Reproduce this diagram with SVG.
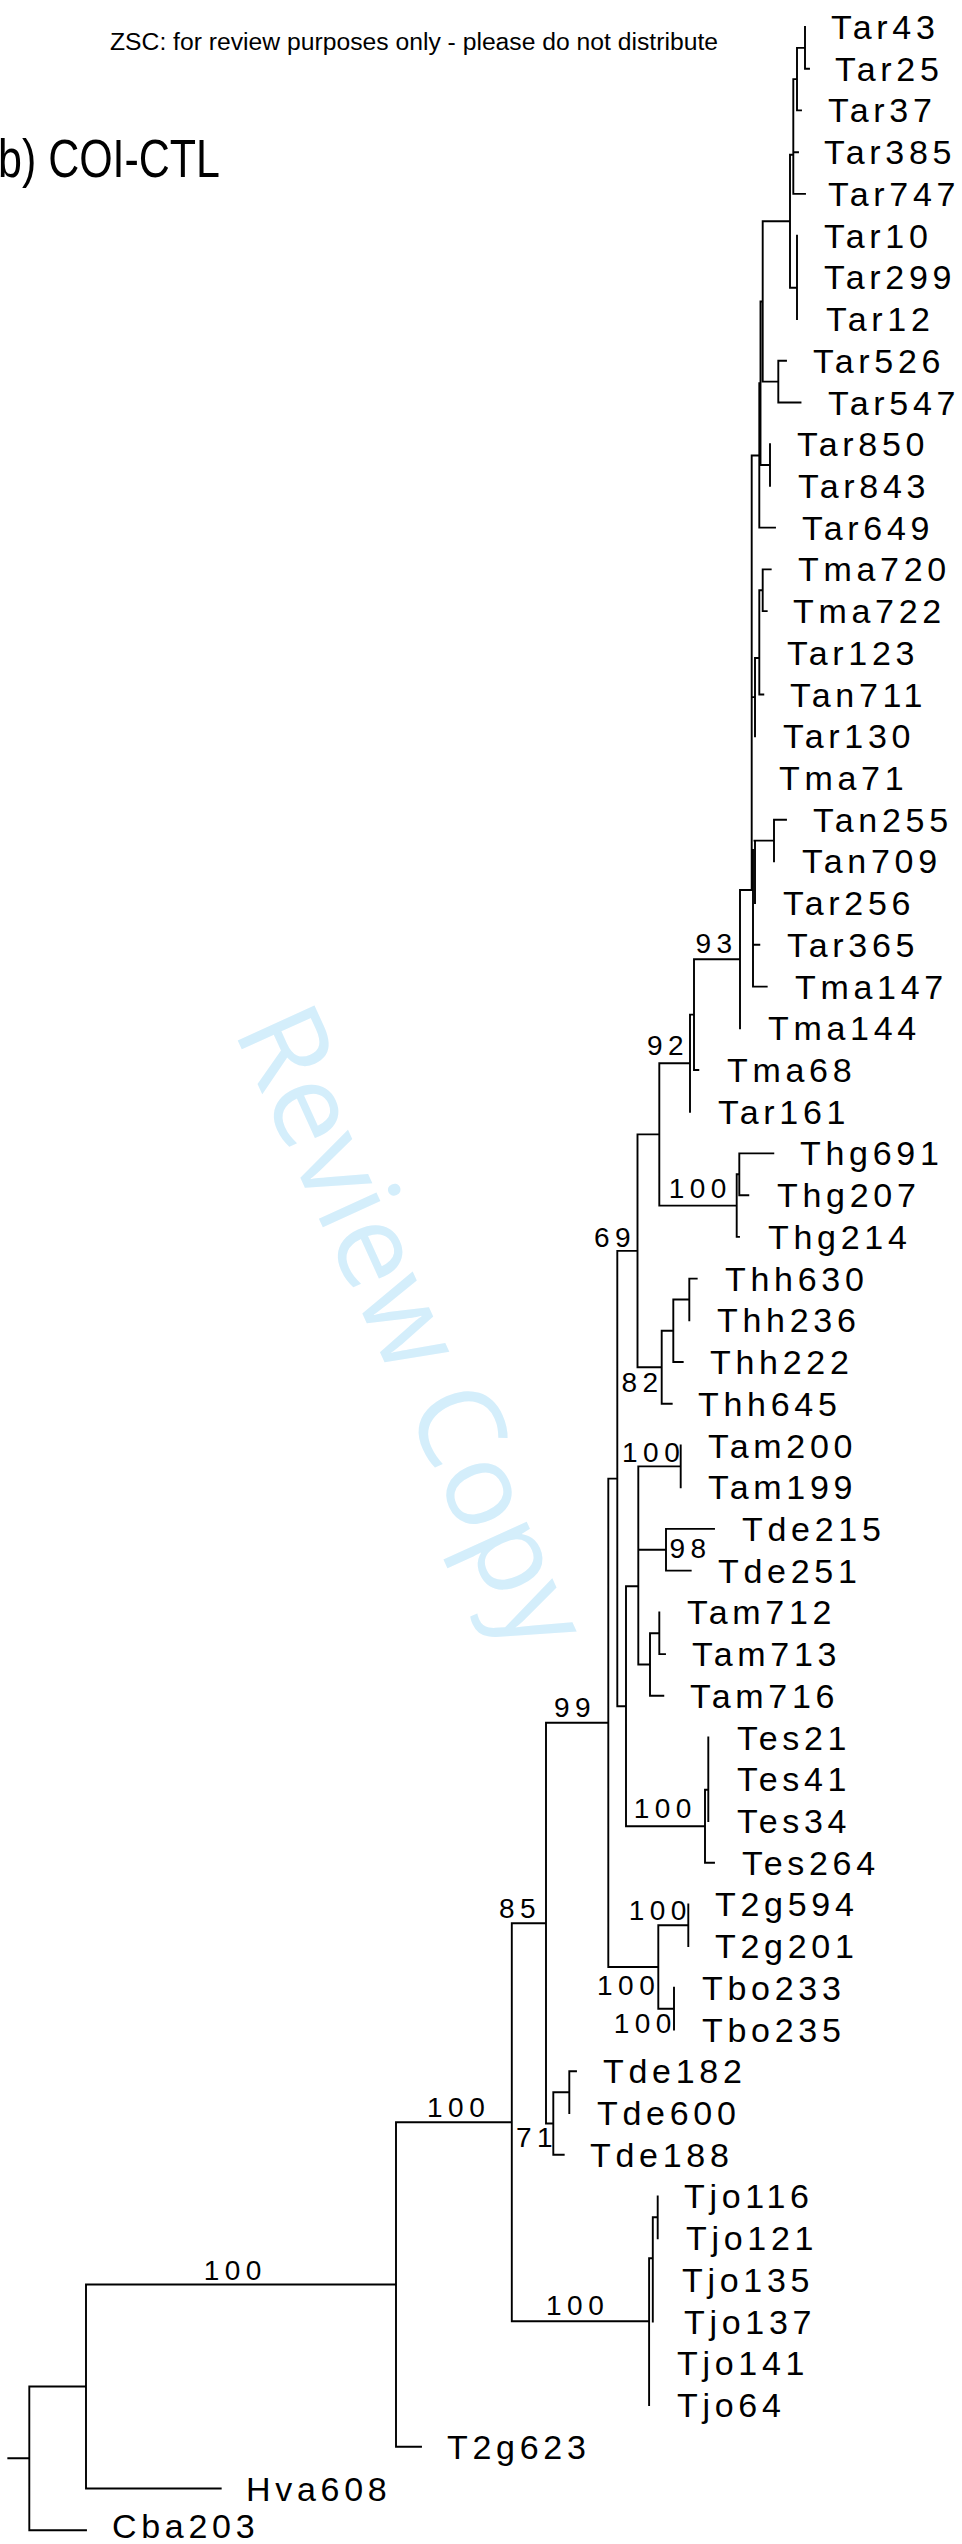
<svg xmlns="http://www.w3.org/2000/svg" width="962" height="2544" viewBox="0 0 962 2544">
<style>
.t{font-family:"Liberation Sans",Arial,sans-serif;font-size:34px;letter-spacing:4.7px;fill:#000}
.b{font-family:"Liberation Sans",Arial,sans-serif;font-size:28px;letter-spacing:5.5px;fill:#000}
.br{fill:none;stroke:#000;stroke-width:1.9;stroke-linecap:square}
</style>
<rect width="962" height="2544" fill="#fff"/>
<g id="watermark"><text transform="translate(233,1030) rotate(65.5)" font-family="'Open Sans','Noto Sans',sans-serif" font-size="118" fill="#d4eefb" textLength="690" lengthAdjust="spacingAndGlyphs">Review Copy</text></g>
<g id="header"><text x="110" y="50" font-family="'Liberation Sans Narrow','Liberation Sans',Arial,sans-serif" font-size="23" fill="#000" textLength="608" lengthAdjust="spacingAndGlyphs">ZSC: for review purposes only - please do not distribute</text></g>
<g id="title"><text x="-2" y="177" font-family="'Liberation Sans Narrow','Liberation Sans',Arial,sans-serif" font-size="54" fill="#000" textLength="222" lengthAdjust="spacingAndGlyphs">b) COI-CTL</text></g>
<g id="connectors">
<path class="br" d="M805 27V68.7 M805 68.7H809 M797 47.9H805 M797 47.9V110.4 M797 110.4H801 M793.3 79.1H797 M793.3 79.1V193.9 M793.3 152.2H798 M793.3 193.9H805 M790 154.8H793.3 M790 154.8V287.7 M790 287.7H797 M797 235.6V319
M762.7 221.3H790 M762.7 221.3V381.6 M762.7 381.6H778.3 M778.3 360.8V402.5 M778.3 360.8H786 M778.3 402.5H800.5
M760.5 301.5H762.7 M760.5 301.5V465 M760.5 465H770 M770 444.2V485.9
M759.3 383.3H760.5 M759.3 383.3V527.6 M759.3 527.6H775
M751.7 455.5H759.3 M751.7 455.5V890
M762.7 569.4V611.1 M762.7 569.4H770.7 M762.7 611.1H766.7 M759.3 590.3H762.7 M759.3 590.3V694.5 M759.3 694.5H763.3
M755 658H759.3 M755 658V736.2 M751.7 697.1H755
M774 819.7V861.4 M774 819.7H786 M754.5 840.6H774 M755 840.6V903.1 M753 850V986.6 M753 944.8H759.3 M753 986.6H766.7
M740 890H751.7 M740 890V1028.3 M694 959.2H740 M694 959.2V1070 M694 1070H698.3 M690 1014.6H694 M690 1014.6V1111.7
M659.3 1063.2H690 M659.3 1063.2V1205.6 M659.3 1205.6H736.7 M736.7 1174.3V1236.9 M736.7 1236.9H739 M736.7 1174.3H739.3 M739.3 1153.4V1195.2 M739.3 1153.4H773.3 M739.3 1195.2H748.3
M637.5 1134.4H659.3 M637.5 1134.4V1367.3 M637.5 1367.3H661.7 M661.7 1330.7V1403.8 M661.7 1403.8H671.7 M661.7 1330.7H673.3 M673.3 1299.5V1362 M673.3 1362H682.7 M673.3 1299.5H689.3 M689.3 1278.6V1320.3 M689.3 1278.6H696.7
M617.3 1250.9H637.5 M617.3 1250.9V1706.3 M617.3 1706.3H626 M626 1586.3V1826.2
M626 1586.3H638.3 M638.3 1466.4V1664.5 M638.3 1466.4H680.7 M680.7 1445.5V1487.2 M638.3 1549.8H666 M666 1528.9V1570.6 M666 1528.9H714 M666 1570.6H690.7
M638.3 1664.5H650 M650 1633.3V1695.8 M650 1695.8H663.3 M650 1633.3H659.3 M659.3 1612.4V1654.1 M659.3 1654.1H665
M626 1826.2H705 M705 1789.7V1862.7 M705 1862.7H714 M705 1789.7H708.3 M708.3 1737.5V1821
M608.3 1478.6H617.3 M608.3 1478.6V1967 M608.3 1967H658.3 M658.3 1925.3V2008.7 M658.3 1925.3H688.3 M688.3 1904.4V1946.1 M658.3 2008.7H674 M674 1987.8V2029.6
M546 1722.8H608.3 M546 1722.8V2123.5 M546 2123.5H553.3 M553.3 2092.2V2154.7 M553.3 2154.7H563.7 M553.3 2092.2H569.3 M569.3 2071.3V2113 M569.3 2071.3H576
M511.8 1923.2H546 M511.8 1923.2V2321.2 M511.8 2321.2H649.1 M649.1 2258.3V2405 M649.1 2258.3H652.8 M652.8 2217.3V2321.6 M652.8 2217.3H657.7 M657.7 2196.4V2238.2
M396 2122.2H511.8 M396 2122.2V2446.8 M396 2446.8H421
M86 2284.5H396 M86 2284.5V2488.5 M86 2488.5H220.7
M29.3 2386.5H86 M29.3 2386.5V2530.2 M29.3 2530.2H86 M8.3 2458.3H29.3"/>
</g>
<g id="taxa">
<g id="n-Tar43"><text class="t" x="831" y="39">Tar43</text></g>
<g id="n-Tar25"><text class="t" x="835" y="80.7">Tar25</text></g>
<g id="n-Tar37"><text class="t" x="828" y="122.4">Tar37</text></g>
<g id="n-Tar385"><text class="t" x="824" y="164.2">Tar385</text></g>
<g id="n-Tar747"><text class="t" x="828" y="205.9">Tar747</text></g>
<g id="n-Tar10"><text class="t" x="824" y="247.6">Tar10</text></g>
<g id="n-Tar299"><text class="t" x="824" y="289.3">Tar299</text></g>
<g id="n-Tar12"><text class="t" x="826" y="331">Tar12</text></g>
<g id="n-Tar526"><text class="t" x="813" y="372.8">Tar526</text></g>
<g id="n-Tar547"><text class="t" x="828" y="414.5">Tar547</text></g>
<g id="n-Tar850"><text class="t" x="797" y="456.2">Tar850</text></g>
<g id="n-Tar843"><text class="t" x="798" y="497.9">Tar843</text></g>
<g id="n-Tar649"><text class="t" x="802" y="539.6">Tar649</text></g>
<g id="n-Tma720"><text class="t" x="798" y="581.4">Tma720</text></g>
<g id="n-Tma722"><text class="t" x="793" y="623.1">Tma722</text></g>
<g id="n-Tar123"><text class="t" x="787" y="664.8">Tar123</text></g>
<g id="n-Tan711"><text class="t" x="790" y="706.5">Tan711</text></g>
<g id="n-Tar130"><text class="t" x="783" y="748.2">Tar130</text></g>
<g id="n-Tma71"><text class="t" x="779" y="790">Tma71</text></g>
<g id="n-Tan255"><text class="t" x="813" y="831.7">Tan255</text></g>
<g id="n-Tan709"><text class="t" x="802" y="873.4">Tan709</text></g>
<g id="n-Tar256"><text class="t" x="783" y="915.1">Tar256</text></g>
<g id="n-Tar365"><text class="t" x="787" y="956.8">Tar365</text></g>
<g id="n-Tma147"><text class="t" x="795" y="998.6">Tma147</text></g>
<g id="n-Tma144"><text class="t" x="768" y="1040.3">Tma144</text></g>
<g id="n-Tma68"><text class="t" x="727" y="1082">Tma68</text></g>
<g id="n-Tar161"><text class="t" x="718" y="1123.7">Tar161</text></g>
<g id="n-Thg691"><text class="t" x="800" y="1165.4">Thg691</text></g>
<g id="n-Thg207"><text class="t" x="777" y="1207.2">Thg207</text></g>
<g id="n-Thg214"><text class="t" x="768" y="1248.9">Thg214</text></g>
<g id="n-Thh630"><text class="t" x="725" y="1290.6">Thh630</text></g>
<g id="n-Thh236"><text class="t" x="717" y="1332.3">Thh236</text></g>
<g id="n-Thh222"><text class="t" x="710" y="1374">Thh222</text></g>
<g id="n-Thh645"><text class="t" x="698" y="1415.8">Thh645</text></g>
<g id="n-Tam200"><text class="t" x="708" y="1457.5">Tam200</text></g>
<g id="n-Tam199"><text class="t" x="708" y="1499.2">Tam199</text></g>
<g id="n-Tde215"><text class="t" x="742" y="1540.9">Tde215</text></g>
<g id="n-Tde251"><text class="t" x="718" y="1582.6">Tde251</text></g>
<g id="n-Tam712"><text class="t" x="687" y="1624.4">Tam712</text></g>
<g id="n-Tam713"><text class="t" x="692" y="1666.1">Tam713</text></g>
<g id="n-Tam716"><text class="t" x="690" y="1707.8">Tam716</text></g>
<g id="n-Tes21"><text class="t" x="737" y="1749.5">Tes21</text></g>
<g id="n-Tes41"><text class="t" x="737" y="1791.2">Tes41</text></g>
<g id="n-Tes34"><text class="t" x="737" y="1833">Tes34</text></g>
<g id="n-Tes264"><text class="t" x="742" y="1874.7">Tes264</text></g>
<g id="n-T2g594"><text class="t" x="715" y="1916.4">T2g594</text></g>
<g id="n-T2g201"><text class="t" x="715" y="1958.1">T2g201</text></g>
<g id="n-Tbo233"><text class="t" x="702" y="1999.8">Tbo233</text></g>
<g id="n-Tbo235"><text class="t" x="702" y="2041.6">Tbo235</text></g>
<g id="n-Tde182"><text class="t" x="603" y="2083.3">Tde182</text></g>
<g id="n-Tde600"><text class="t" x="597" y="2125">Tde600</text></g>
<g id="n-Tde188"><text class="t" x="590" y="2166.7">Tde188</text></g>
<g id="n-Tjo116"><text class="t" x="684" y="2208.4">Tjo116</text></g>
<g id="n-Tjo121"><text class="t" x="686" y="2250.2">Tjo121</text></g>
<g id="n-Tjo135"><text class="t" x="682" y="2291.9">Tjo135</text></g>
<g id="n-Tjo137"><text class="t" x="684" y="2333.6">Tjo137</text></g>
<g id="n-Tjo141"><text class="t" x="677" y="2375.3">Tjo141</text></g>
<g id="n-Tjo64"><text class="t" x="677" y="2417">Tjo64</text></g>
<g id="n-T2g623"><text class="t" x="447" y="2458.8">T2g623</text></g>
<g id="n-Hva608"><text class="t" x="246" y="2500.5">Hva608</text></g>
<g id="n-Cba203"><text class="t" x="112" y="2538">Cba203</text></g>
</g>
<g id="support">
<g id="s93"><text class="b" x="695.5" y="953.3">93</text></g>
<g id="s92"><text class="b" x="647" y="1055">92</text></g>
<g id="s100-thg"><text class="b" x="668.7" y="1198.3">100</text></g>
<g id="s69"><text class="b" x="594" y="1247">69</text></g>
<g id="s82"><text class="b" x="621.5" y="1391.7">82</text></g>
<g id="s100-tam"><text class="b" x="622" y="1461.7">100</text></g>
<g id="s98"><text class="b" x="669.5" y="1558.3">98</text></g>
<g id="s99"><text class="b" x="554" y="1716.7">99</text></g>
<g id="s100-tes"><text class="b" x="633.7" y="1818">100</text></g>
<g id="s100-t2g"><text class="b" x="628.7" y="1920">100</text></g>
<g id="s85"><text class="b" x="499" y="1918">85</text></g>
<g id="s100-t2gtbo"><text class="b" x="597" y="1995">100</text></g>
<g id="s100-tbo"><text class="b" x="613.7" y="2033.3">100</text></g>
<g id="s100-x"><text class="b" x="427" y="2116.7">100</text></g>
<g id="s71"><text class="b" x="516" y="2146.5">71</text></g>
<g id="s100-tjo"><text class="b" x="546" y="2315">100</text></g>
<g id="s100-root"><text class="b" x="203.7" y="2280">100</text></g>
</g>
</svg>
